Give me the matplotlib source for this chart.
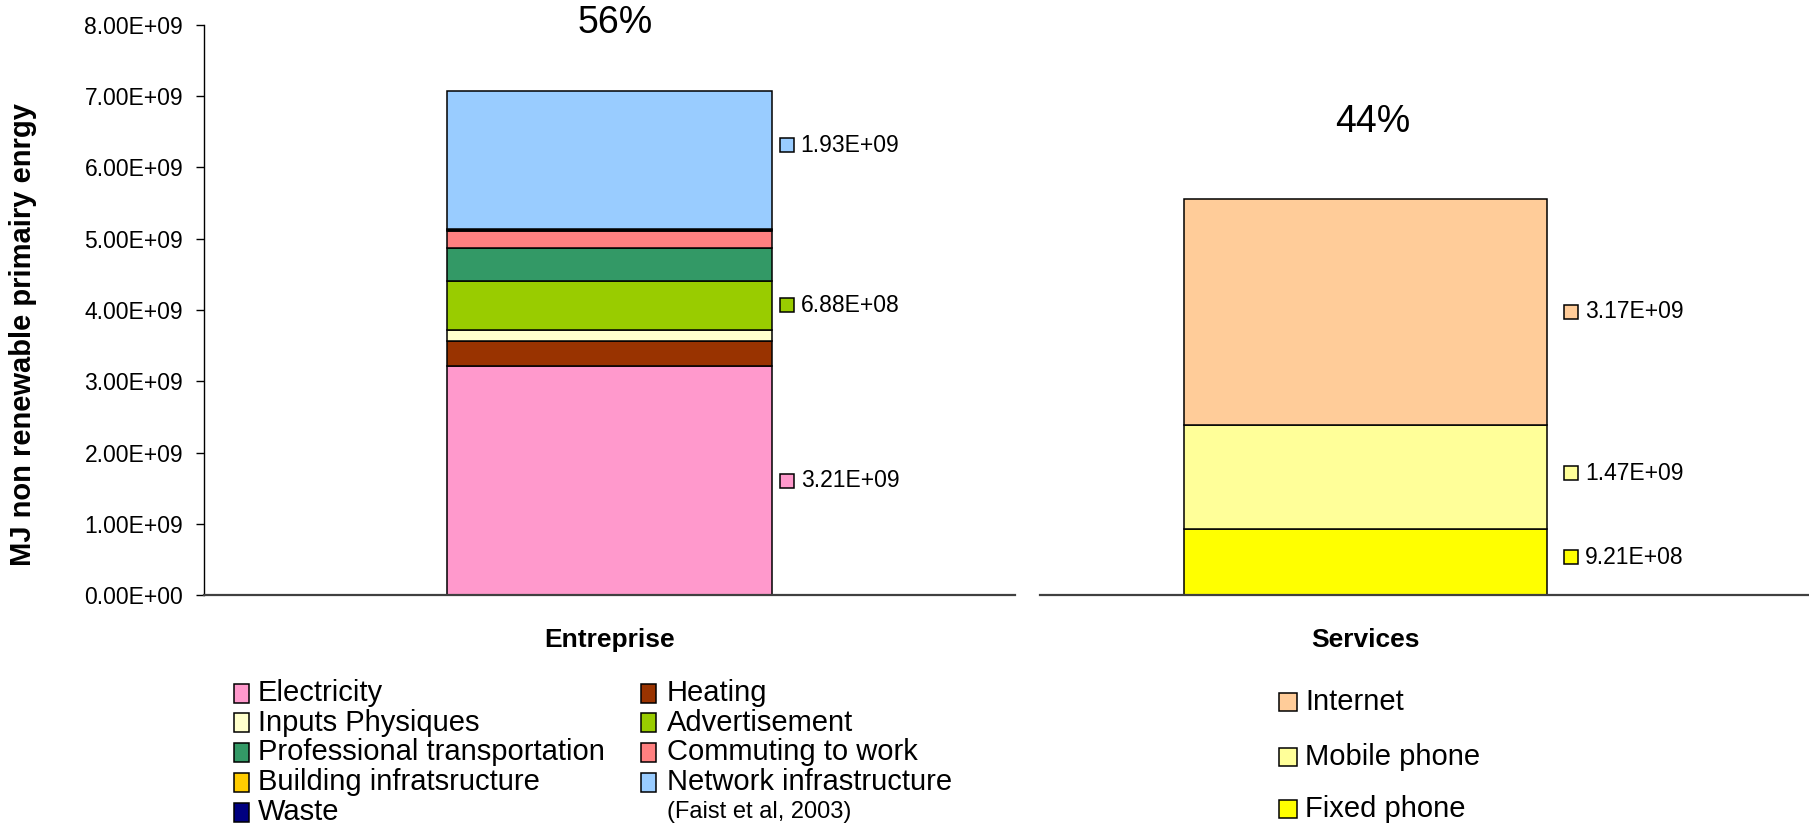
import matplotlib
matplotlib.use("Agg")
import matplotlib.pyplot as plt
from matplotlib.patches import Rectangle
from matplotlib.transforms import offset_copy
from matplotlib import font_manager
import numpy as np

# ── Data ──────────────────────────────────────────────────────────────────────

categories = ["Entreprise", "Services"]
shares     = ["56%", "44%"]

ent_labels = ["Electricity", "Heating", "Inputs Physiques", "Advertisement",
              "Professional transportation", "Commuting to work",
              "Building infratsructure", "Waste", "Network infrastructure"]
ent_values = [3.21e9, 0.35e9, 0.16e9, 0.688e9, 0.46e9, 0.24e9, 0.02e9, 0.01e9, 1.93e9]
ent_colors = ["#FF99CC", "#993300", "#FFFFCC", "#99CC00", "#339966",
              "#FF8080", "#FFCC00", "#000080", "#99CCFF"]
ent_annotated = ["Electricity", "Advertisement", "Network infrastructure"]

# legend order of the left block (column by column)
ent_legend_order = ["Electricity", "Inputs Physiques", "Professional transportation",
                    "Building infratsructure", "Waste",
                    "Heating", "Advertisement", "Commuting to work", "Network infrastructure"]

srv_labels = ["Fixed phone", "Mobile phone", "Internet"]
srv_values = [0.921e9, 1.47e9, 3.17e9]
srv_colors = ["#FFFF00", "#FFFF99", "#FFCC99"]

# ── Layout helpers (pixel coords, origin top-left) ────────────────────────────

W, H, DPI = 1809, 827, 100

def fx(x):
    return x / W

def fy(y):
    return 1 - y / H

names = {f.name for f in font_manager.fontManager.ttflist}
NARROW = "Liberation Sans Narrow" if "Liberation Sans Narrow" in names else None
plt.rcParams["font.family"] = ["Liberation Sans", "DejaVu Sans"]

fig = plt.figure(figsize=(W / DPI, H / DPI), dpi=DPI)
ax1 = fig.add_axes([fx(204), fy(595), fx(1015) - fx(204), fy(25) - fy(595)])
ax2 = fig.add_axes([fx(1040), fy(595), fx(1809) - fx(1040), fy(25) - fy(595)])

# small upward nudge (pixels) for some value labels
label_nudge = {"Network infrastructure": 15, "Mobile phone": 4, "Fixed phone": 5}


def stacked(ax, x, width, values, colors, labels, annotate, dx, pct, pct_dx, pct_dy):
    bottom = 0.0
    for v, c, l in zip(values, colors, labels):
        ax.bar(x, v, width, bottom=bottom, color=c, edgecolor="black", linewidth=1.1)
        if l in annotate:
            mid = bottom + v / 2
            ny = label_nudge.get(l, 0)
            mark_tr = offset_copy(ax.transData, fig=fig, x=dx, y=ny, units="dots")
            text_tr = offset_copy(ax.transData, fig=fig, x=dx + 14, y=ny, units="dots")
            ax.plot([x + width / 2], [mid], marker="s", ms=10.5, mfc=c, mec="black",
                    mew=1.1, transform=mark_tr, clip_on=False)
            ax.text(x + width / 2, mid, f"{v:.2E}", transform=text_tr,
                    ha="left", va="center", fontsize=16.5)
        bottom += v
    ax.annotate(pct, xy=(x, bottom), xytext=(pct_dx, pct_dy), textcoords="offset pixels",
                ha="center", va="center", fontsize=27, annotation_clip=False)


stacked(ax1, 0.0, 0.4, ent_values, ent_colors, ent_labels, ent_annotated,
        15, shares[0], 6, 68)
stacked(ax2, -0.077, 0.472, srv_values, srv_colors, srv_labels, srv_labels,
        24, shares[1], 7, 77)

for ax in (ax1, ax2):
    ax.set_ylim(0, 8e9)
    ax.set_xlim(-0.5, 0.5)
    ax.spines["top"].set_visible(False)
    ax.spines["right"].set_visible(False)
    ax.spines["bottom"].set_color("#404040")
    ax.spines["bottom"].set_linewidth(1.6)
    ax.tick_params(axis="x", length=0, pad=24)

ax1.set_yticks(np.arange(0, 8.01e9, 1e9))
ax1.yaxis.set_major_formatter(plt.FuncFormatter(lambda v, p: f"{v:.2E}"))
ax1.tick_params(axis="y", labelsize=16.5, length=6, width=1, pad=9)
ax1.spines["left"].set_linewidth(1)

ax2.spines["left"].set_visible(False)
ax2.set_yticks([])

ax1.set_xticks([0.0])
ax1.set_xticklabels([categories[0]], fontsize=19, fontweight="bold")
ax2.set_xticks([-0.077])
ax2.set_xticklabels([categories[1]], fontsize=19, fontweight="bold")

fig.text(fx(23), fy(335), "MJ non renewable primairy enrgy", rotation=90,
         ha="center", va="center", fontsize=21, fontweight="bold")

# ── Legends ───────────────────────────────────────────────────────────────────

def legend_entry(x, y, w, h, color, text, gap, fontsize, family):
    fig.patches.append(Rectangle((fx(x), fy(y + h / 2)), w / W, h / H,
                                 transform=fig.transFigure, facecolor=color,
                                 edgecolor="black", linewidth=1.1))
    fig.text(fx(x + w + gap), fy(y), text, ha="left", va="center",
             fontsize=fontsize, family=family)


if NARROW:
    left_fam, left_size, faist_size = [NARROW, "Liberation Sans"], 25, 21
else:
    left_fam, left_size, faist_size = ["Liberation Sans"], 21, 17

color_of = dict(zip(ent_labels, ent_colors))
for i, name in enumerate(ent_legend_order):
    col, row = divmod(i, 5)
    x = [234, 641][col]
    legend_entry(x, 693 + row * 29.75, 15, 19, color_of[name], name,
                 [9, 11][col], left_size, left_fam)
fig.text(fx(667), fy(693 + 4 * 29.75), "(Faist et al, 2003)", ha="left", va="center",
         fontsize=faist_size, family=left_fam)

srv_color_of = dict(zip(srv_labels, srv_colors))
for i, name in enumerate(srv_labels[::-1]):
    legend_entry(1279, [702, 757, 809][i], 18, 18, srv_color_of[name], name, 8, 21,
                 ["Liberation Sans"])

fig.savefig("out.png", dpi=DPI)
